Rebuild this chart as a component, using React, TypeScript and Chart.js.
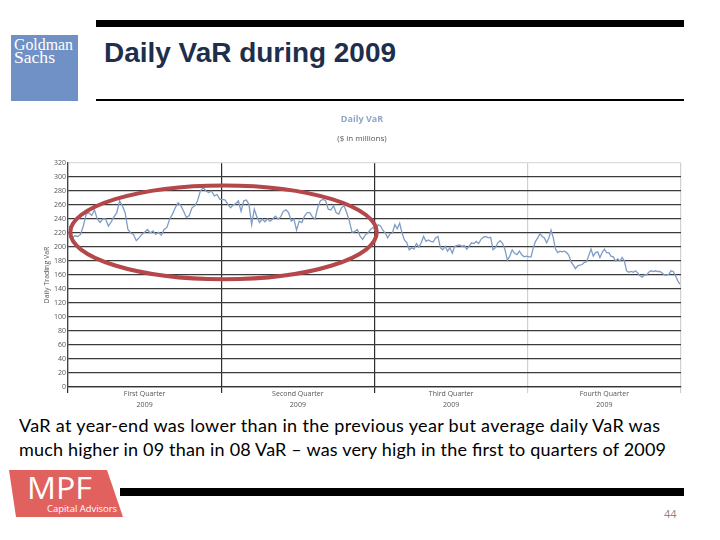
import React, { useEffect, useRef } from 'react';
import { Chart, registerables } from 'chart.js';

Chart.register(...registerables);

// ---- Data ----
const quarterLabels = ['First Quarter', 'Second Quarter', 'Third Quarter', 'Fourth Quarter'];
const yearLabel = '2009';

const q1VaR = [230, 213, 216, 215, 218, 230, 247, 249, 245, 253, 240, 235, 240, 240, 230, 236, 243, 249, 266, 259, 249, 225, 220, 218, 209, 213, 218, 221, 225, 220, 223, 218, 221, 217, 225, 228, 240, 247, 256, 263, 259, 251, 242, 245, 256, 259, 266, 280, 285, 280, 278, 280, 273, 275, 268];
const q2VaR = [268, 267, 261, 256, 260, 262, 266, 251, 266, 267, 261, 232, 254, 243, 235, 240, 236, 240, 237, 240, 244, 240, 243, 251, 253, 249, 237, 240, 224, 237, 235, 244, 249, 249, 243, 240, 256, 266, 268, 266, 254, 253, 259, 249, 247, 256, 259, 249, 237, 221, 222, 225, 216, 211, 217, 220, 225, 228];
const q3VaR = [222, 232, 230, 224, 220, 213, 219, 220, 232, 226, 234, 220, 210, 206, 196, 199, 197, 205, 200, 206, 215, 208, 210, 208, 207, 213, 215, 199, 196, 201, 194, 199, 191, 201, 202, 203, 201, 202, 197, 201, 206, 205, 208, 205, 211, 214, 215, 213, 214, 196, 199, 206, 209, 205, 196, 181, 187, 196, 191, 189, 194, 189, 186, 187];
const q4VaR = [186, 186, 199, 208, 213, 219, 215, 213, 206, 213, 224, 213, 197, 192, 194, 193, 194, 192, 188, 179, 174, 169, 173, 174, 175, 178, 179, 188, 197, 187, 192, 193, 185, 192, 197, 192, 192, 187, 186, 180, 183, 180, 185, 180, 166, 164, 165, 164, 166, 163, 159, 157, 160, 160, 164, 166, 165, 166, 165, 165, 163, 160, 160, 161, 166, 165, 159, 152, 147];

const quarterSeries = [q1VaR, q2VaR, q3VaR, q4VaR];

const yMin = 0;
const yMax = 320;
const yStep = 20;

// Hand-drawn highlight ring, in data units (quarters, $m)
const highlightRing = { xCenter: 1.015, yCenter: 221, xRadius: 1.0, yRadius: 67 };

const FONT = "'Open Sans', 'Liberation Sans', sans-serif";

function buildPoints() {
  const pts: { x: number; y: number }[] = [];
  quarterSeries.forEach((vals, q) => {
    vals.forEach((v, i) => pts.push({ x: q + (i + 0.5) / vals.length, y: v }));
  });
  return pts;
}

const ringPlugin = {
  id: 'highlightRing',
  afterDatasetsDraw(chart: any) {
    const { ctx, scales } = chart;
    const xs = scales.x;
    const ys = scales.y;
    const cx = xs.getPixelForValue(highlightRing.xCenter);
    const cy = ys.getPixelForValue(highlightRing.yCenter);
    const rx = Math.abs(xs.getPixelForValue(highlightRing.xCenter + highlightRing.xRadius) - cx);
    const ry = Math.abs(ys.getPixelForValue(highlightRing.yCenter + highlightRing.yRadius) - cy);
    ctx.save();
    ctx.beginPath();
    ctx.ellipse(cx, cy, rx, ry, 0, 0, Math.PI * 2);
    ctx.strokeStyle = '#b4474a';
    ctx.lineWidth = 4;
    ctx.stroke();
    ctx.restore();
  },
};

function VaRChart() {
  const ref = useRef<HTMLCanvasElement | null>(null);
  useEffect(() => {
    if (!ref.current) return;
    const nQ = quarterLabels.length;
    const tickValues: number[] = [];
    for (let k = 0; k <= nQ * 2; k++) tickValues.push(k / 2);

    const gridColor = (ctx: any) => {
      const v = ctx.tick ? ctx.tick.value : 0;
      if (v % 1 !== 0) return 'rgba(0,0,0,0)';
      return v >= 3 ? '#d0d0d0' : '#2e2e2e';
    };

    const chart = new Chart(ref.current, {
      type: 'line',
      data: {
        datasets: [
          {
            label: 'Daily VaR',
            data: buildPoints(),
            borderColor: '#7f9cc6',
            borderWidth: 1.3,
            pointRadius: 0,
            tension: 0,
            fill: false,
          },
        ],
      },
      options: {
        responsive: false,
        animation: false,
        layout: { padding: { left: 0, right: 9, top: 0, bottom: 0 } },
        plugins: {
          legend: { display: false },
          tooltip: { enabled: false },
          title: {
            display: true,
            text: 'Daily VaR',
            color: '#8ea6c9',
            font: { family: FONT, size: 9, weight: 'bold' },
            padding: { top: 9, bottom: 0 },
          },
          subtitle: {
            display: true,
            text: '($ in millions)',
            color: '#555',
            font: { family: FONT, size: 8 },
            padding: { top: 8.8, bottom: 19.8 },
          },
        },
        scales: {
          x: {
            type: 'linear',
            min: 0,
            max: nQ,
            afterBuildTicks: (scale: any) => {
              scale.ticks = tickValues.map((v) => ({ value: v }));
            },
            afterFit: (scale: any) => {
              scale.height = 28;
            },
            ticks: {
              autoSkip: false,
              maxRotation: 0,
              minRotation: 0,
              padding: -4,
              color: '#555',
              font: { family: FONT, size: 7, lineHeight: 1.5 },
              callback: (value: any) => {
                const v = Number(value);
                if (v % 1 === 0.5) return [quarterLabels[Math.floor(v)], yearLabel];
                return '';
              },
            },
            grid: {
              color: gridColor,
              tickColor: gridColor,
              lineWidth: 1.2,
              drawTicks: true,
              tickLength: 6,
            },
            border: { color: '#333', width: 1.2 },
          },
          y: {
            min: yMin,
            max: yMax,
            afterFit: (scale: any) => {
              scale.width = 25;
            },
            ticks: {
              stepSize: yStep,
              padding: 2,
              color: '#555',
              font: { family: FONT, size: 7 },
            },
            grid: {
              drawTicks: false,
              color: (ctx: any) => (ctx.tick && ctx.tick.value === yMax ? '#dcdcdc' : '#3a3a3a'),
              lineWidth: 1.2,
            },
            border: { color: '#444', width: 1.2 },
            title: {
              display: true,
              text: 'Daily Trading VaR',
              color: '#555',
              font: { family: FONT, size: 7 },
              padding: 0,
            },
          },
        },
      },
      plugins: [ringPlugin],
    } as any);
    return () => chart.destroy();
  }, []);
  return (
    <canvas
      ref={ref}
      width={647}
      height={310}
      style={{ position: 'absolute', left: 43, top: 105, width: 647, height: 310, display: 'block' }}
    />
  );
}

export default function App() {
  const bodyLine1 = 'VaR at year-end was lower than in the previous year but average daily VaR was';
  const bodyLine2 = 'much higher in 09 than in 08 VaR \u2013 was very high in the first to quarters of 2009';
  return (
    <div
      style={{
        position: 'fixed',
        left: 0,
        top: 0,
        width: 720,
        height: 540,
        background: '#fff',
        overflow: 'hidden',
      }}
    >
      <svg width={720} height={540} style={{ position: 'absolute', left: 0, top: 0 }}>
        {/* header */}
        <rect x={96} y={20} width={588} height={7} fill="#000" />
        <rect x={11} y={35} width={67} height={66} fill="#7091c6" />
        <text x={14} y={50} fill="#fff" fontFamily="'Liberation Serif', serif" fontSize={17} textLength={59} lengthAdjust="spacingAndGlyphs">
          Goldman
        </text>
        <text x={14} y={63} fill="#fff" fontFamily="'Liberation Serif', serif" fontSize={17} textLength={41} lengthAdjust="spacingAndGlyphs">
          Sachs
        </text>
        <text x={104} y={62} fill="#1d2f4d" fontFamily="'Liberation Sans', Arial, sans-serif" fontWeight="bold" fontSize={27} textLength={292} lengthAdjust="spacingAndGlyphs">
          Daily VaR during 2009
        </text>
        <rect x={96} y={99} width={588} height={2} fill="#000" />

        {/* body text */}
        <text x={19} y={432} fill="#000" fontFamily="Lato, 'Open Sans', sans-serif" fontSize={18} textLength={641} lengthAdjust="spacing">
          {bodyLine1}
        </text>
        <text x={19} y={456} fill="#000" fontFamily="Lato, 'Open Sans', sans-serif" fontSize={18} textLength={647} lengthAdjust="spacing">
          {bodyLine2}
        </text>

        {/* footer */}
        <polygon points="9,470 107,470 123,517 16,517" fill="#e1615f" />
        <text x={27} y={499} fill="#fff" fontFamily="'Open Sans', sans-serif" fontSize={31} textLength={65} lengthAdjust="spacingAndGlyphs">
          MPF
        </text>
        <text x={47} y={512} fill="#fff" fontFamily="'Open Sans', sans-serif" fontSize={9} textLength={70} lengthAdjust="spacingAndGlyphs">
          Capital Advisors
        </text>
        <rect x={120} y={488} width={564} height={8} fill="#000" />
        <text x={664} y={518} fill="#888" fontFamily="'Open Sans', sans-serif" fontSize={11}>
          44
        </text>
      </svg>
      <VaRChart />
    </div>
  );
}
